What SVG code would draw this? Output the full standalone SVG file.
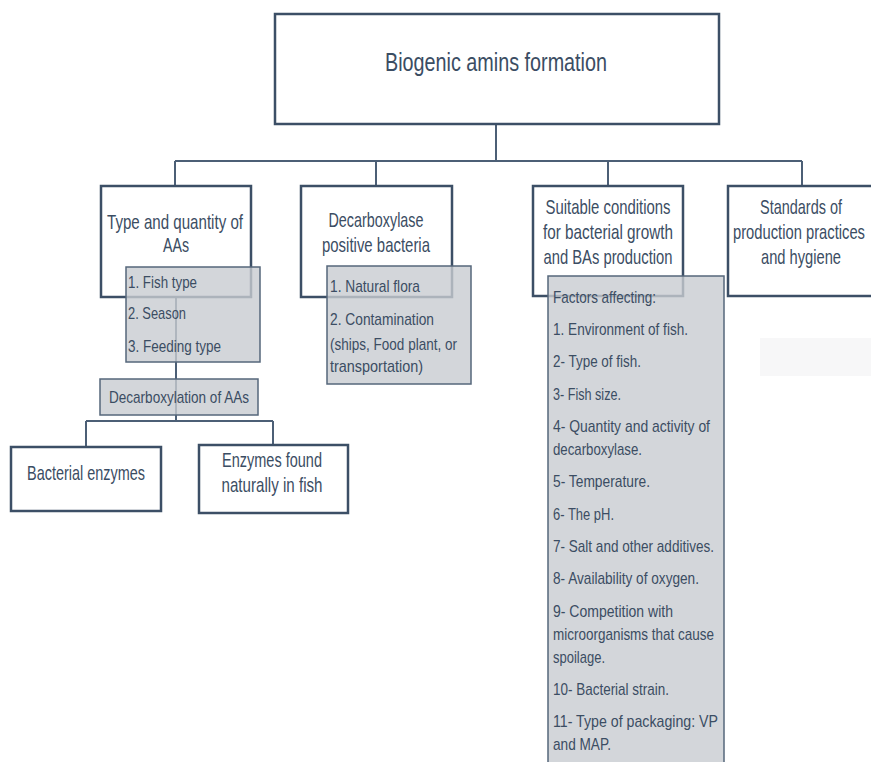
<svg xmlns="http://www.w3.org/2000/svg" width="871" height="762" viewBox="0 0 871 762">
<style>
text{font-family:"Liberation Sans",Arial,sans-serif;fill:#3b4d63}
.t{font-size:25px}
.h{font-size:21px}
.s{font-size:17px}
.c{text-anchor:middle}
.box{fill:#fff;stroke:#3c4f66;stroke-width:2.5}
.gbox{fill:#c8ccd1;fill-opacity:0.8;stroke:#56677b;stroke-width:1.5}
.con{fill:none;stroke:#4c5f76;stroke-width:2}
</style>
<rect width="871" height="762" fill="#fff"/>
<rect x="760" y="338" width="111" height="38" fill="#f7f7f8"/>
<g id="connectors">
<path class="con" d="M496 124V161M175 161H802M175 161V186M376 161V186M608 161V186M802 161V186"/>
<path class="con" d="M176 297V421M86 421H273M86 421V447M273 421V445"/>
</g>
<g id="root">
<rect class="box" x="275" y="14" width="444" height="110"/>
<text class="t c" x="496" y="71" textLength="222" lengthAdjust="spacingAndGlyphs">Biogenic amins formation</text>
</g>
<g id="type-quantity">
<rect class="box" x="101" y="186" width="150" height="111"/>
<text class="h c" x="175" y="229" textLength="136" lengthAdjust="spacingAndGlyphs">Type and quantity of</text>
<text class="h c" x="176" y="252" textLength="26" lengthAdjust="spacingAndGlyphs">AAs</text>
</g>
<g id="decarboxylase-bacteria">
<rect class="box" x="301" y="186" width="151" height="111"/>
<text class="h c" x="376" y="227" textLength="95" lengthAdjust="spacingAndGlyphs">Decarboxylase</text>
<text class="h c" x="376" y="252" textLength="108" lengthAdjust="spacingAndGlyphs">positive bacteria</text>
</g>
<g id="suitable-conditions">
<rect class="box" x="533" y="186" width="150" height="110"/>
<text class="h c" x="608" y="214" textLength="125" lengthAdjust="spacingAndGlyphs">Suitable conditions</text>
<text class="h c" x="608" y="239" textLength="130" lengthAdjust="spacingAndGlyphs">for bacterial growth</text>
<text class="h c" x="608" y="264" textLength="129" lengthAdjust="spacingAndGlyphs">and BAs production</text>
</g>
<g id="standards">
<rect class="box" x="728" y="186" width="160" height="110"/>
<text class="h c" x="801" y="214" textLength="82" lengthAdjust="spacingAndGlyphs">Standards of</text>
<text class="h c" x="799" y="239" textLength="132" lengthAdjust="spacingAndGlyphs">production practices</text>
<text class="h c" x="801" y="264" textLength="80" lengthAdjust="spacingAndGlyphs">and hygiene</text>
</g>
<g id="aa-factors">
<rect class="gbox" x="126" y="267" width="134" height="95"/>
<text class="s" x="128" y="288" textLength="69" lengthAdjust="spacingAndGlyphs">1. Fish type</text>
<text class="s" x="128" y="319" textLength="58" lengthAdjust="spacingAndGlyphs">2. Season</text>
<text class="s" x="128" y="352" textLength="93" lengthAdjust="spacingAndGlyphs">3. Feeding type</text>
</g>
<g id="bacteria-sources">
<rect class="gbox" x="327" y="266" width="144" height="118"/>
<text class="s" x="330" y="292" textLength="90" lengthAdjust="spacingAndGlyphs">1. Natural flora</text>
<text class="s" x="330" y="325" textLength="104" lengthAdjust="spacingAndGlyphs">2. Contamination</text>
<text class="s" x="330" y="350" textLength="127" lengthAdjust="spacingAndGlyphs">(ships, Food plant, or</text>
<text class="s" x="330" y="372" textLength="93" lengthAdjust="spacingAndGlyphs">transportation)</text>
</g>
<g id="factors">
<rect class="gbox" x="548" y="276" width="176" height="500"/>
<text class="s" x="553" y="303" textLength="103" lengthAdjust="spacingAndGlyphs">Factors affecting:</text>
<text class="s" x="553" y="335" textLength="135" lengthAdjust="spacingAndGlyphs">1. Environment of fish.</text>
<text class="s" x="553" y="367" textLength="88" lengthAdjust="spacingAndGlyphs">2- Type of fish.</text>
<text class="s" x="553" y="400" textLength="68" lengthAdjust="spacingAndGlyphs">3- Fish size.</text>
<text class="s" x="553" y="432" textLength="157" lengthAdjust="spacingAndGlyphs">4- Quantity and activity of</text>
<text class="s" x="553" y="455" textLength="89" lengthAdjust="spacingAndGlyphs">decarboxylase.</text>
<text class="s" x="553" y="487" textLength="97" lengthAdjust="spacingAndGlyphs">5- Temperature.</text>
<text class="s" x="553" y="520" textLength="61" lengthAdjust="spacingAndGlyphs">6- The pH.</text>
<text class="s" x="553" y="552" textLength="161" lengthAdjust="spacingAndGlyphs">7- Salt and other additives.</text>
<text class="s" x="553" y="584" textLength="146" lengthAdjust="spacingAndGlyphs">8- Availability of oxygen.</text>
<text class="s" x="553" y="617" textLength="120" lengthAdjust="spacingAndGlyphs">9- Competition with</text>
<text class="s" x="553" y="640" textLength="161" lengthAdjust="spacingAndGlyphs">microorganisms that cause</text>
<text class="s" x="553" y="663" textLength="52" lengthAdjust="spacingAndGlyphs">spoilage.</text>
<text class="s" x="553" y="695" textLength="116" lengthAdjust="spacingAndGlyphs">10- Bacterial strain.</text>
<text class="s" x="553" y="727" textLength="165" lengthAdjust="spacingAndGlyphs">11- Type of packaging: VP</text>
<text class="s" x="553" y="750" textLength="58" lengthAdjust="spacingAndGlyphs">and MAP.</text>
</g>
<g id="decarboxylation">
<rect class="gbox" x="100" y="379" width="158" height="36"/>
<text class="s c" x="179" y="403" textLength="140" lengthAdjust="spacingAndGlyphs">Decarboxylation of AAs</text>
</g>
<g id="bacterial-enzymes">
<rect class="box" x="11" y="447" width="150" height="64"/>
<text class="h c" x="86" y="480" textLength="118" lengthAdjust="spacingAndGlyphs">Bacterial enzymes</text>
</g>
<g id="fish-enzymes">
<rect class="box" x="199" y="445" width="149" height="68"/>
<text class="h c" x="272" y="467" textLength="100" lengthAdjust="spacingAndGlyphs">Enzymes found</text>
<text class="h c" x="272" y="492" textLength="101" lengthAdjust="spacingAndGlyphs">naturally in fish</text>
</g>
</svg>
